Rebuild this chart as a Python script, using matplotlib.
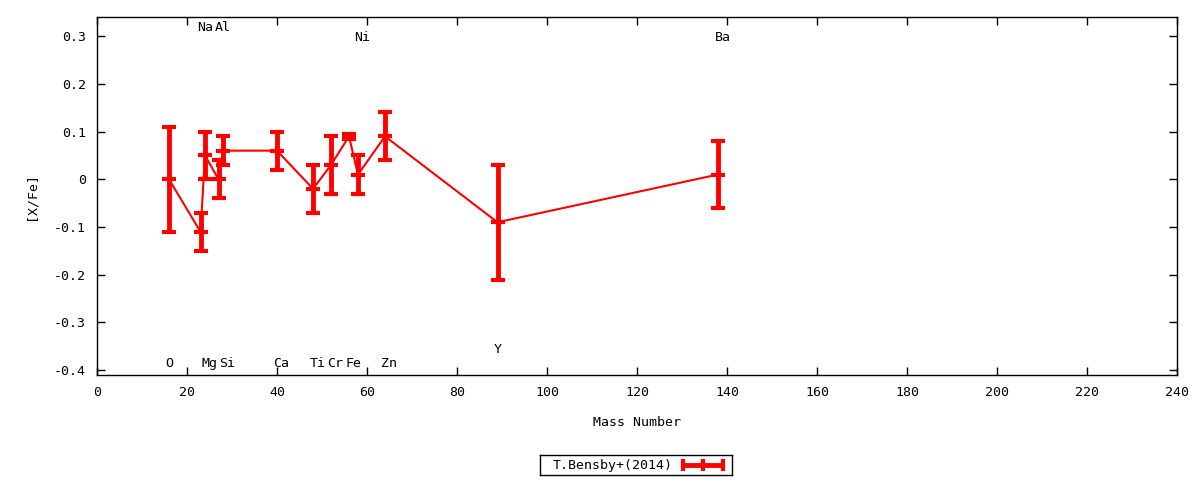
import matplotlib
matplotlib.use("Agg")
import matplotlib.pyplot as plt

plt.rcParams['font.family'] = ['DejaVu Sans Mono']
plt.rcParams['font.size'] = 9.5

# T.Bensby+(2014) abundances vs mass number
mass = [16, 23, 24, 27, 28, 40, 48, 52, 56, 58, 64, 89, 138]
xfe = [0.0, -0.11, 0.05, 0.0, 0.06, 0.06, -0.02, 0.03, 0.09, 0.01, 0.09, -0.09, 0.01]
err = [0.11, 0.04, 0.05, 0.04, 0.03, 0.04, 0.05, 0.06, 0.005, 0.04, 0.05, 0.12, 0.07]

# element labels: name, mass number, label height
elements = ['O', 'Na', 'Mg', 'Al', 'Si', 'Ca', 'Ti', 'Cr', 'Fe', 'Ni', 'Zn', 'Y', 'Ba']
label_y = [-0.385, 0.318, -0.385, 0.318, -0.385, -0.385, -0.385, -0.385,
           -0.385, 0.297, -0.385, -0.356, 0.297]

legend_label = 'T.Bensby+(2014)'

fig = plt.figure(figsize=(12, 4.8), dpi=100)
ax = fig.add_axes([97 / 1200, 1 - 375 / 480, 1080 / 1200, 358 / 480])

ax.plot(mass, xfe, color='red', lw=1.5, zorder=2)
ax.errorbar(mass, xfe, yerr=err, fmt='none', ecolor='red', elinewidth=3.5,
            capsize=5, capthick=3, zorder=3)
ax.plot(mass, xfe, ls='none', marker='_', ms=10, mew=3, color='red', zorder=3)

for name, m, ly in zip(elements, mass, label_y):
    ax.annotate(name, (m, ly), xytext=(-2.6, 0), textcoords='offset points',
                ha='left', va='center')

ax.set_xlim(0, 240)
ax.set_ylim(-0.41, 0.34)
ax.set_xticks(range(0, 241, 20))
ax.set_yticks([-0.4, -0.3, -0.2, -0.1, 0, 0.1, 0.2, 0.3])
ax.set_yticklabels(['-0.4', '-0.3', '-0.2', '-0.1', '0', '0.1', '0.2', '0.3'])
ax.tick_params(direction='in', top=True, right=True, length=6, width=1, pad=8)
for s in ax.spines.values():
    s.set_linewidth(1.0)

ax.set_xlabel('Mass Number', labelpad=12)
ax.set_ylabel('[X/Fe]', labelpad=12)

# gnuplot-like key box below the plot
kax = fig.add_axes([540 / 1200, 1 - 475 / 480, 192 / 1200, 20 / 480])
kax.set_xlim(0, 192)
kax.set_ylim(0, 20)
kax.set_xticks([])
kax.set_yticks([])
for s in kax.spines.values():
    s.set_linewidth(1.0)
kax.text(13, 10, legend_label, ha='left', va='center')
kax.errorbar([163], [10], xerr=[[20], [20]], fmt='none', ecolor='red',
             elinewidth=3.5, capsize=4, capthick=3)
kax.plot([163], [10], ls='none', marker='|', ms=8, mew=3, color='red')

fig.savefig('out.png', dpi=100)
